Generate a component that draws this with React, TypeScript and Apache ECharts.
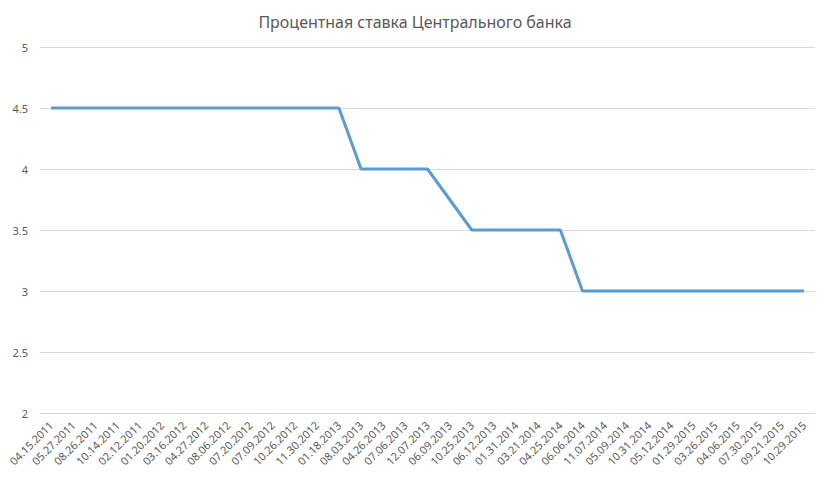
import React, { useEffect, useRef } from "react";
import * as echarts from "echarts";

const titleText = "Процентная ставка Центрального банка";

const dates = [
  "04.15.2011", "05.27.2011", "08.26.2011", "10.14.2011", "02.12.2011",
  "01.20.2012", "03.16.2012", "04.27.2012", "08.06.2012", "07.20.2012",
  "07.09.2012", "10.26.2012", "11.30.2012", "01.18.2013", "08.03.2013",
  "04.26.2013", "07.06.2013", "12.07.2013", "06.09.2013", "10.25.2013",
  "06.12.2013", "01.31.2014", "03.21.2014", "04.25.2014", "06.06.2014",
  "11.07.2014", "05.09.2014", "10.31.2014", "05.12.2014", "01.29.2015",
  "03.26.2015", "04.06.2015", "07.30.2015", "09.21.2015", "10.29.2015",
];

const rates = [
  4.5, 4.5, 4.5, 4.5, 4.5,
  4.5, 4.5, 4.5, 4.5, 4.5,
  4.5, 4.5, 4.5, 4.5, 4,
  4, 4, 4, 3.75, 3.5,
  3.5, 3.5, 3.5, 3.5, 3,
  3, 3, 3, 3, 3,
  3, 3, 3, 3, 3,
];

const yMin = 2;
const yMax = 5;
const yStep = 0.5;

export default function App() {
  const ref = useRef<HTMLDivElement>(null);
  useEffect(() => {
    if (!ref.current) return;
    const chart = echarts.init(ref.current, undefined, { renderer: "svg" });
    const font = "'Noto Sans', 'Open Sans', sans-serif";
    chart.setOption({
      animation: false,
      backgroundColor: "#ffffff",
      title: {
        text: titleText,
        left: "center",
        top: 9,
        textStyle: { color: "#595959", fontSize: 16, fontWeight: "normal", fontFamily: font },
      },
      grid: { left: 40, right: 15, top: 47, bottom: 65, containLabel: false },
      xAxis: {
        type: "category",
        data: dates,
        boundaryGap: true,
        axisLine: { show: false },
        axisTick: { show: false },
        splitLine: { show: false },
        axisLabel: {
          interval: 0,
          rotate: 45,
          color: "#595959",
          fontSize: 11,
          fontFamily: font,
          margin: 10,
        },
      },
      yAxis: {
        type: "value",
        min: yMin,
        max: yMax,
        interval: yStep,
        axisLine: { show: false },
        axisTick: { show: false },
        splitLine: { lineStyle: { color: "#d9d9d9", width: 1 } },
        axisLabel: {
          color: "#595959",
          fontSize: 11,
          fontFamily: font,
          margin: 12,
        },
      },
      series: [
        {
          type: "line",
          data: rates,
          symbol: "none",
          lineStyle: { color: "#5b9bd5", width: 3 },
          itemStyle: { color: "#5b9bd5" },
        },
      ],
    });
    return () => chart.dispose();
  }, []);
  return (
    <div
      ref={ref}
      style={{ position: "fixed", left: 0, top: 0, width: 830, height: 478, background: "#fff" }}
    />
  );
}
